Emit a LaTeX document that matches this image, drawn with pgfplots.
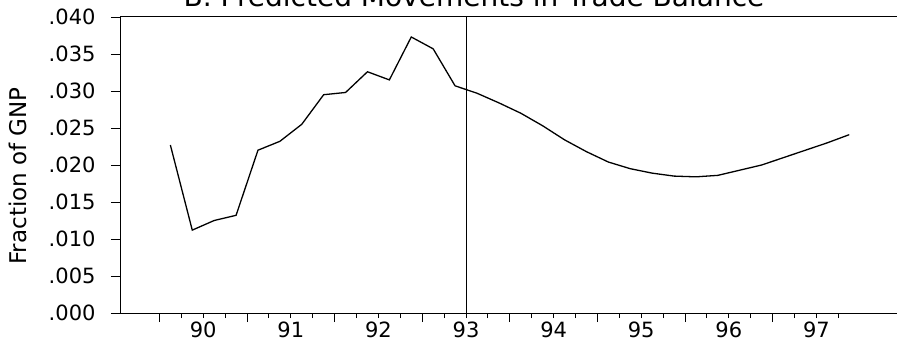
\documentclass[border=0pt]{standalone}
\usepackage{pgfplots}
\pgfplotsset{compat=1.18}
\usepackage{fontspec}
\setmainfont{DejaVu Sans}
\pgfplotstableread{
x y
89.625 0.0227
89.875 0.0112
90.125 0.0125
90.375 0.0132
90.625 0.0220
90.875 0.0232
91.125 0.0255
91.375 0.0295
91.625 0.0298
91.875 0.0326
92.125 0.0315
92.375 0.0373
92.625 0.0357
92.875 0.0307
93.125 0.0297
93.375 0.0284
93.625 0.0270
93.875 0.0253
94.125 0.0234
94.375 0.0218
94.625 0.0204
94.875 0.0195
95.125 0.0189
95.375 0.0185
95.625 0.0184
95.875 0.0186
96.125 0.0193
96.375 0.0200
96.625 0.0210
96.875 0.0220
97.125 0.0230
97.375 0.0241
}\tradedata
\begin{document}
\begin{tikzpicture}
\path[use as bounding box, clip] (0,0) rectangle (898bp,351bp);
\begin{axis}[
  at={(120bp,38bp)}, anchor=south west,
  scale only axis, width=777bp, height=296bp,
  xmin=89.05, xmax=97.92, ymin=0, ymax=0.04,
  axis x line=box, axis y line=left,
  x axis line style={-}, y axis line style={-},
  axis line style={line width=1bp},
  xtick pos=left, ytick pos=left,
  tick align=outside,
  tick style={black, line width=0.9bp},
  major tick length=9bp, minor tick length=5bp,
  scaled y ticks=false, scaled x ticks=false,
  xtick={89.5,90.5,91.5,92.5,93.5,94.5,95.5,96.5},
  xticklabels={},
  minor xtick={89.75,90.25,90.75,91.25,91.75,92.25,92.75,93.25,93.75,94.25,94.75,95.25,95.75,96.25,96.75,97.25},
  extra x ticks={90,91,92,93,94,95,96,97},
  extra x tick labels={90,91,92,93,94,95,96,97},
  extra x tick style={major tick length=5bp},
  ytick={0,0.005,0.01,0.015,0.02,0.025,0.03,0.035,0.04},
  yticklabels={.000,.005,.010,.015,.020,.025,.030,.035,.040},
  ticklabel style={font=\fontsize{21bp}{25bp}\selectfont},
  yticklabel style={xshift=-12bp},
  ylabel={Fraction of GNP},
  ylabel style={font=\fontsize{23bp}{27bp}\selectfont, at={(axis description cs:-0.1313,0.463)}, anchor=center},
  title={B. Predicted Movements in Trade Balance},
  title style={font=\fontsize{28bp}{32bp}\selectfont, at={(axis description cs:0.4556,1)}, anchor=base, yshift=5bp},
]
\addplot[black, line width=0.9bp] coordinates {(93,0) (93,0.04)};
\addplot[black, line width=1.3bp] table[x=x, y=y] {\tradedata};
\end{axis}
\end{tikzpicture}
\end{document}
